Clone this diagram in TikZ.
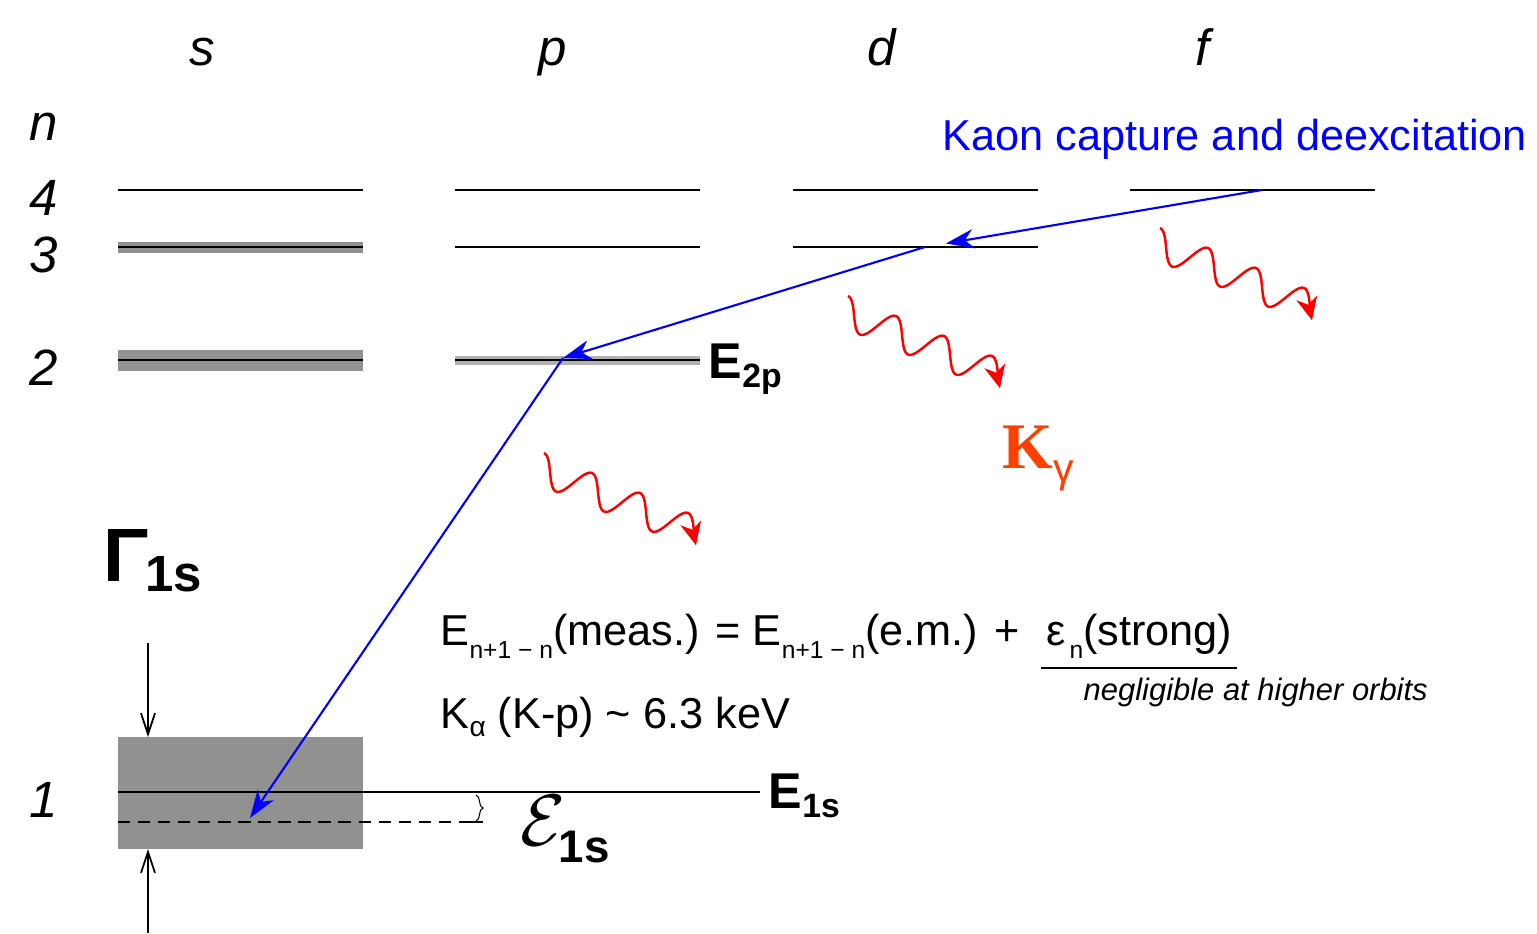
\documentclass[tikz,border=0pt]{standalone}
\usepackage{fontspec}
\setmainfont{Liberation Sans}
\newfontfamily\timesfont{Liberation Serif}
\usetikzlibrary{arrows.meta,decorations.pathreplacing}
\definecolor{bandgray}{gray}{0.57}
\definecolor{kgamma}{RGB}{255,64,0}
% lowered subscript: size, drop, text
\newcommand{\lsub}[3]{\raisebox{-#2}{\fontsize{#1}{#1}\selectfont #3}}
\begin{document}
\begin{tikzpicture}[x=0.01cm,y=-0.01cm,
  level/.style={line width=0.6pt},
  kaon/.style={blue,line width=0.6pt,-{Stealth[length=8pt,width=5.5pt,inset=2.5pt]}},
  photon/.style={red,line width=0.7pt,-{Stealth[length=6.5pt,width=6pt,inset=2pt]}},
  gwidth/.style={line width=0.5pt,-{Straight Barb[length=6pt,width=4pt]}},
  orb/.style={anchor=base,font=\fontsize{14.5}{14.5}\selectfont\itshape},
  lbl/.style={anchor=base west,inner sep=0pt,font=\fontsize{14.3}{14.3}\selectfont\bfseries},
  txt/.style={anchor=base west,inner sep=0pt,font=\fontsize{12.3}{12.3}\selectfont}]
  \useasboundingbox (0,0) rectangle (1537,933);
  % orbital and principal quantum number labels
  \node[orb] (ls) at (202,65) {s};
  \node[orb] (lp) at (553,65) {p};
  \node[orb] (ld) at (882,65) {d};
  \node[orb] (lf) at (1203,65) {f};
  \node[orb] (nn) at (44,140) {n};
  \node[orb] (n4) at (44,215) {4};
  \node[orb] (n3) at (44,272) {3};
  \node[orb] (n2) at (44,385) {2};
  \node[orb] (n1) at (44,817) {1};
  % widths from the strong interaction
  \fill[bandgray] (118,242) rectangle (363,253);
  \fill[bandgray] (118,350) rectangle (363,371);
  \fill[black!30] (455,356) rectangle (700,365);
  \fill[bandgray] (118,737) rectangle (363,849);
  % levels
  \foreach \x in {118,455,793,1130} {
    \draw[level] (\x,190) -- ++(245,0);
  }
  \foreach \x in {118,455,793} {
    \draw[level] (\x,247) -- ++(245,0);
  }
  \foreach \x in {118,455} {
    \draw[level] (\x,360) -- ++(245,0);
  }
  \draw[level] (118,792) -- (760,792);
  \draw[level,dash pattern=on 3.5pt off 2.2pt] (118,822) -- (478,822);
  \draw[line width=0.3pt,decorate,decoration={brace,amplitude=2pt}] (476,795) -- (476,821);
  \draw[line width=0.5pt] (470,822) -- (483,822);
  % kaon cascade
  \coordinate (k4) at (1262,190);
  \coordinate (k3) at (925,247);
  \coordinate (k2) at (563,358);
  \coordinate (k1) at (250,818);
  \draw[kaon,shorten >=6pt] (k4) -- (k3);
  \draw[kaon] (k3) -- (k2);
  \draw[kaon] (k2) -- (k1);
  % x-ray emission
  \coordinate (ph1) at (1160,228);
  \coordinate (ph2) at (848,296);
  \coordinate (ph3) at (544,453);
  \foreach \p in {ph1,ph2,ph3} {
    \begin{scope}[shift={(\p)},rotate=-22.6]
      \draw[photon] plot[domain=0:3.38,samples=90,smooth] ({52*\x},{15.5*(1-cos(360*\x))});
    \end{scope}
  }
  % level width arrows
  \coordinate (gt) at (148,643);
  \coordinate (gb) at (148,933);
  \coordinate (bt) at (148,737);
  \coordinate (bb) at (148,849);
  \draw[gwidth] (gt) -- (bt);
  \draw[gwidth] (gb) -- (bb);
  % labels
  \node[anchor=base west,inner sep=0pt,blue,font=\fontsize{12.3}{12.3}\selectfont] (title) at (942,150) {Kaon capture and deexcitation};
  \node[lbl] (e2p) at (708,378) {E\lsub{9.6}{2.7pt}{2p}};
  \node[lbl] (e1s) at (768,808) {E\lsub{9.6}{2.7pt}{1s}};
  \node[anchor=base west,inner sep=0pt,text=kgamma] (kg) at (1002,468) {\fontsize{18.5}{18.5}\selectfont{\timesfont\bfseries K}\lsub{11.7}{4pt}{γ}};
  \node[anchor=base west,inner sep=0pt,font=\fontsize{21.5}{21.5}\selectfont\bfseries] (gam) at (103,581) {Γ\kern-1pt\lsub{14.5}{3pt}{1s}};
  \node[anchor=base west,inner sep=0pt,font=\fontsize{20}{20}\selectfont] (eps) at (520,845) {$\mathcal{E}$\kern-2pt\lsub{13}{5pt}{\bfseries 1s}};
  \node[txt] (eq) at (440,645) {E\lsub{7}{3.8pt}{n+1 − n}(meas.) = E\lsub{7}{3.8pt}{n+1 − n}(e.m.) +};
  \node[txt,inner xsep=1.2pt,anchor=base west] (strong) at ([xshift=6pt]eq.base east) {ε\lsub{7}{3.8pt}{\,n}(strong)};
  \draw[line width=0.7pt] ([yshift=-2.5pt]strong.south west) -- ([yshift=-2.5pt]strong.south east);
  \node[anchor=base west,inner sep=0pt,font=\fontsize{8.8}{8.8}\selectfont\itshape] (negl) at (1083,700) {negligible at higher orbits};
  \node[txt] (ka) at (440,728) {K\lsub{8}{2.3pt}{α} (K-p) \textasciitilde{} 6.3 keV};
\end{tikzpicture}
\end{document}
